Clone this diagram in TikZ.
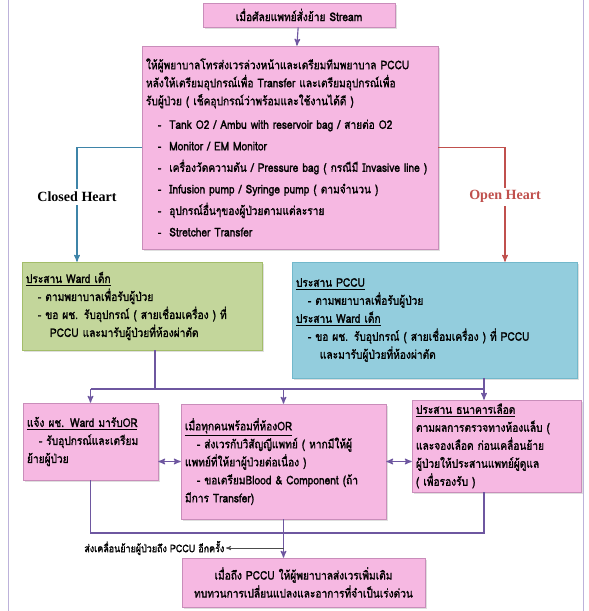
\documentclass[tikz,border=0pt]{standalone}
\usepackage{fontspec}
\setmainfont[Script=Thai, FakeStretch=0.85, AutoFakeBold=1.5]{Loma}
\newfontfamily\headfont{Liberation Serif}
\usepackage{tikz}
\usetikzlibrary{arrows,shadows}
\usepackage{xcolor}
\definecolor{pinkfill}{HTML}{F6B8E2}
\definecolor{pinkdraw}{HTML}{C98DBA}
\definecolor{greenfill}{HTML}{C3D69B}
\definecolor{greendraw}{HTML}{A3BD6A}
\definecolor{bluefill}{HTML}{93CDDD}
\definecolor{bluedraw}{HTML}{72B8CB}
\definecolor{flowline}{HTML}{6E57A0}
\definecolor{closedline}{HTML}{3E84A8}
\definecolor{openline}{HTML}{C0504D}
\definecolor{pageline}{HTML}{BDB2DA}

\begin{document}
\begin{tikzpicture}[x=0.025cm,y=-0.025cm,>=stealth']
\tikzset{
    box/.style={%
        rectangle, thin,
        align=left,
        inner xsep=0.1cm, inner ysep=2pt,
        font=\fontsize{8.5}{12.8}\selectfont\bfseries,
        drop shadow={opacity=0.25, shadow xshift=1.2pt, shadow yshift=-1.2pt}
        },
    pinkbox/.style={box, draw=pinkdraw, fill=pinkfill},
    greenbox/.style={box, draw=greendraw, fill=greenfill},
    bluebox/.style={box, draw=bluedraw, fill=bluefill},
    flow/.style={draw=flowline, thick},
    heartlabel/.style={fill=white, inner sep=2pt, font=\headfont\bfseries\fontsize{10}{12}\selectfont},
}
\useasboundingbox (0,0) rectangle (589,611);
%%%PAGE
\draw[pageline] (8,0) -- (8,611);
\draw[pageline] (583,0) -- (583,611);
%%%BOXES
\node[pinkbox, align=center, text width=4.6cm, minimum height=0.6cm] (start) at (299,15)
    {เมื่อศัลยแพทย์สั่งย้าย Stream};
\node[pinkbox, text width=7.2cm, minimum height=5.075cm] (prep) at (290,147.5)
    {ให้ผู้พยาบาลโทรส่งเวรล่วงหน้าและเตรียมทีมพยาบาล PCCU\\
     หลังให้เตรียมอุปกรณ์เพื่อ Transfer และเตรียมอุปกรณ์เพื่อ\\
     รับผู้ป่วย ( เช็คอุปกรณ์ว่าพร้อมและใช้งานได้ดี )\\[4pt]
     \quad - \ Tank O2 / Ambu with reservoir bag / สายต่อ O2\\[2.5pt]
     \quad - \ Monitor / EM Monitor\\[2.5pt]
     \quad - \ เครื่องวัดความดัน / Pressure bag ( กรณีมี Invasive line )\\[2.5pt]
     \quad - \ Infusion pump / Syringe pump ( ตามจำนวน )\\[2.5pt]
     \quad - \ อุปกรณ์อื่นๆของผู้ป่วยตามแต่ละราย\\[2.5pt]
     \quad - \ Stretcher Transfer};
\node[greenbox, text width=5.8cm, minimum height=2.2cm] (ward) at (142,306)
    {\underline{ประสาน Ward เด็ก}\\
     \quad - ตามพยาบาลเพื่อรับผู้ป่วย\\
     \quad - ขอ ผช. รับอุปกรณ์ ( สายเชื่อมเครื่อง ) ที่\\
     \qquad PCCU และมารับผู้ป่วยที่ห้องผ่าตัด};
\node[bluebox, text width=6.925cm, minimum height=2.9cm] (pccu) at (434.5,320)
    {\underline{ประสาน PCCU}\\
     \quad - ตามพยาบาลเพื่อรับผู้ป่วย\\
     \underline{ประสาน Ward เด็ก}\\
     \quad - ขอ ผช. รับอุปกรณ์ ( สายเชื่อมเครื่อง ) ที่ PCCU\\
     \qquad และมารับผู้ป่วยที่ห้องผ่าตัด};
\node[pinkbox, text width=3.175cm, minimum height=1.925cm] (helper) at (90.5,441.5)
    {\underline{แจ้ง ผช. Ward มารับOR}\\
     \quad - รับอุปกรณ์และเตรียม\\
     ย้ายผู้ป่วย};
\node[pinkbox, text width=4.925cm, minimum height=2.875cm] (orroom) at (283.5,461.5)
    {\underline{เมื่อทุกคนพร้อมที่ห้องOR}\\
     \quad - ส่งเวรกับวิสัญญีแพทย์ ( หากมีให้ผู้\\
     แพทย์ที่ให้ยาผู้ป่วยต่อเนื่อง )\\
     \quad - ขอเตรียมBlood \& Component (ถ้า\\
     มีการ Transfer)};
\node[pinkbox, text width=4.025cm, minimum height=2.3cm] (bank) at (496.5,446)
    {\underline{ประสาน ธนาคารเลือด}\\
     ตามผลการตรวจทางห้องแล็บ (\\
     และจองเลือด ก่อนเคลื่อนย้าย\\
     ผู้ป่วยให้ประสานแพทย์ผู้ดูแล\\
     ( เพื่อรองรับ )};
\node[pinkbox, align=center, text width=5.875cm, minimum height=1.225cm] (arrive) at (303.5,582.5)
    {เมื่อถึง PCCU ให้ผู้พยาบาลส่งเวรเพิ่มเติม\\
     ทบทวนการเปลี่ยนแปลงและอาการที่จำเป็นเร่งด่วน};
\node[font=\fontsize{7.5}{9}\selectfont\bfseries, anchor=east, inner sep=1pt] (again) at (226,548)
    {ส่งเคลื่อนย้ายผู้ป่วยถึง PCCU อีกครั้ง};
%%%CONNECTORS
\draw[->, thick, draw=flowline] (start) -- (prep);
\draw[->, thick, draw=closedline] (prep.west) -| node[heartlabel, pos=0.716] {Closed Heart} (77,0 |- ward.north);
\draw[->, thick, draw=openline] (prep.east) -| node[heartlabel, text=openline, pos=0.716] {Open Heart} (505,0 |- pccu.north);
%
\draw[flow] (155,0 |- ward.south) -- (155,389);
\draw[flow] (helper.north |- 0,389) -- (484,389);
\draw[flow,->] (484,0 |- pccu.south) -- (484,0 |- bank.north);
\draw[flow,->] (helper.north |- 0,389) -- (helper.north);
\draw[flow,->] (orroom.north |- 0,389) -- (orroom.north);
\draw[flow,<->] (helper.east |- orroom.west) -- (orroom.west);
\draw[flow,<->] (orroom.east) -- (bank.west |- orroom.east);
%
\draw[flow] (helper.south) -- (helper.south |- 0,533) -- (484,533) -- (484,0 |- bank.south);
\draw[flow,->] (orroom.south) -- (orroom.south |- arrive.north);
\draw[->, draw=black!70] (orroom.south |- again.east) -- (again.east);
\end{tikzpicture}
\end{document}
